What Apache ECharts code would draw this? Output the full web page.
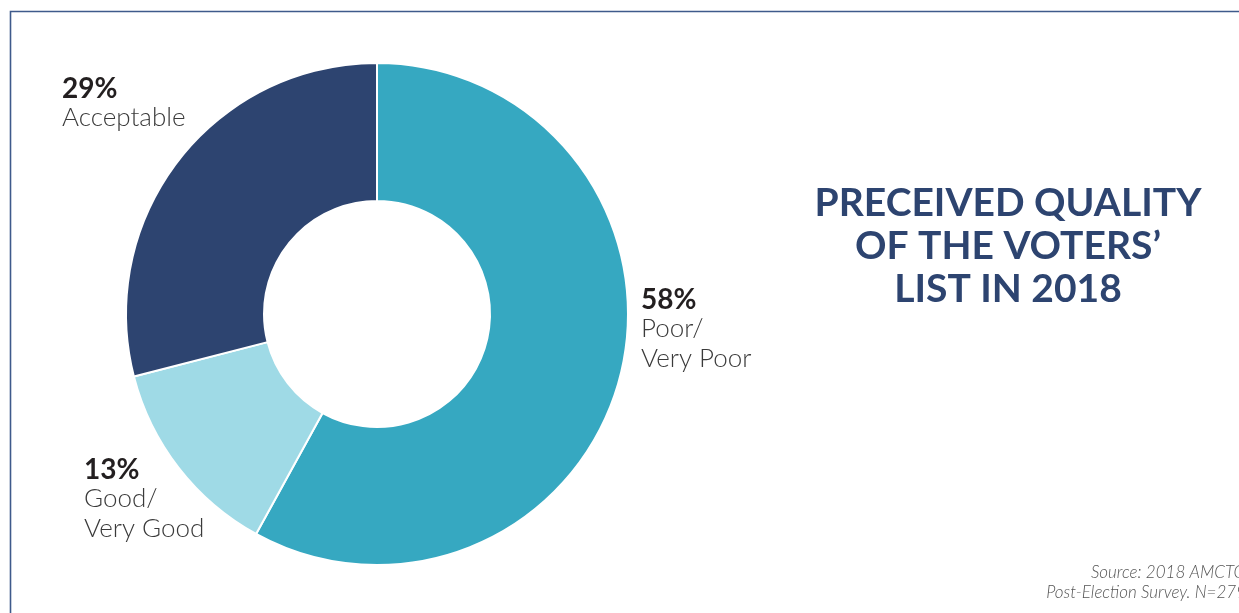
<!DOCTYPE html>
<html>
<head>
<meta charset="utf-8">
<title>Preceived quality of the voters' list in 2018</title>
<script src="https://cdn.jsdelivr.net/npm/echarts@6/dist/echarts.min.js"></script>
<style>
  html, body { margin: 0; padding: 0; background: #ffffff; }
  #chart { width: 1239px; height: 613px; }
</style>
</head>
<body>
<div id="chart"></div>
<script>
// Survey answers, clockwise from 12 o'clock
const categories = ['Poor/\nVery Poor', 'Good/\nVery Good', 'Acceptable'];
const shares = [58, 13, 29];
const sliceColors = ['#36a8c1', '#9fdae6', '#2d4470'];

const titleLines = ['PRECEIVED QUALITY', 'OF THE VOTERS\u2019', 'LIST IN 2018'];
const sourceLines = ['Source: 2018 AMCTO', 'Post-Election Survey. N=279'];

// Where each slice's text block sits (left edge, top of first line)
const labelSpots = [
  { x: 641, y: 285 },
  { x: 84, y: 455 },
  { x: 62, y: 74 }
];

const chart = echarts.init(document.getElementById('chart'), null, { renderer: 'canvas' });

chart.setOption({
  animation: false,
  backgroundColor: '#ffffff',
  graphic: [
    {
      type: 'polyline',
      shape: { points: [[10.5, 640], [10.5, 11.5], [1260, 11.5]] },
      style: { stroke: '#3e5a8b', lineWidth: 1.6, fill: null },
      silent: true
    },
    {
      type: 'text',
      x: 1008,
      y: 182,
      style: {
        text: titleLines.join('\n'),
        font: 'bold 39px Lato, "Open Sans", sans-serif',
        fill: '#2d4470',
        align: 'center',
        verticalAlign: 'top',
        lineHeight: 43
      },
      silent: true
    },
    {
      type: 'text',
      x: 1246,
      y: 563,
      style: {
        text: sourceLines.join('\n'),
        font: 'italic 300 17px Lato, "Open Sans", sans-serif',
        fill: '#555555',
        align: 'right',
        verticalAlign: 'top',
        lineHeight: 20
      },
      silent: true
    }
  ],
  series: [
    {
      type: 'pie',
      center: [377, 314],
      radius: [113, 251],
      startAngle: 90,
      clockwise: true,
      silent: true,
      itemStyle: { borderColor: '#ffffff', borderWidth: 2 },
      labelLine: { show: false },
      label: {
        show: true,
        position: 'outside',
        overflow: 'none',
        formatter: function (p) {
          const nameLines = p.name.split('\n').map(function (l) { return '{n|' + l + '}'; });
          return ['{v|' + p.value + '%}'].concat(nameLines).join('\n');
        },
        rich: {
          v: {
            fontFamily: 'Lato, "Open Sans", sans-serif',
            fontWeight: 'bold',
            fontSize: 28,
            lineHeight: 29,
            color: '#231f20'
          },
          n: {
            fontFamily: 'Lato, "Open Sans", sans-serif',
            fontWeight: 300,
            fontSize: 26,
            lineHeight: 29.5,
            color: '#3a3a3a'
          }
        }
      },
      labelLayout: function (params) {
        const spot = labelSpots[params.dataIndex];
        return { x: spot.x, y: spot.y, align: 'left', verticalAlign: 'top' };
      },
      data: categories.map(function (name, i) {
        return { name: name, value: shares[i], itemStyle: { color: sliceColors[i] } };
      })
    }
  ]
});
</script>
</body>
</html>
